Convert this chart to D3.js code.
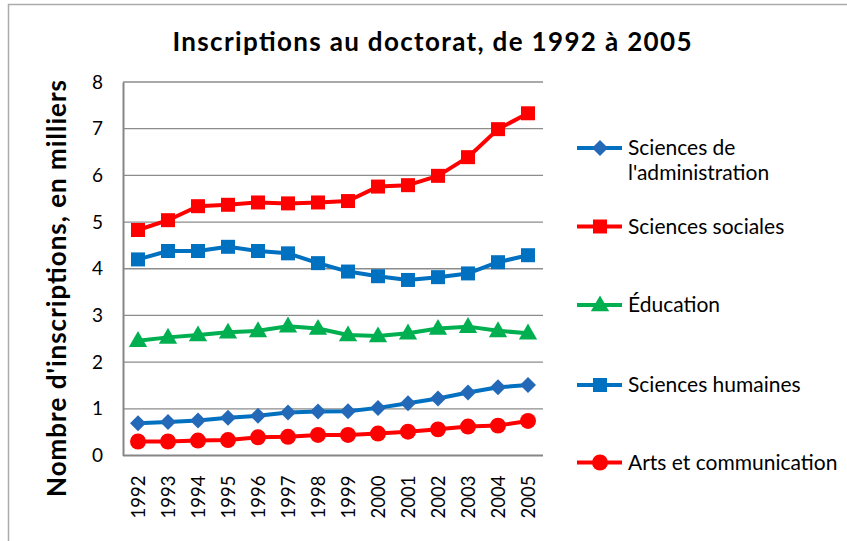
<!DOCTYPE html>
<html><head><meta charset="utf-8">
<script src="https://cdn.jsdelivr.net/npm/d3@7"></script>
<style>body{margin:0;background:#fff}svg{display:block}</style>
</head><body>
<svg id="c" width="847" height="541"></svg>
<script>
const years = ["1992","1993","1994","1995","1996","1997","1998","1999","2000","2001","2002","2003","2004","2005"];
const yTicks = [0,1,2,3,4,5,6,7,8];
const seriesNames = ["Sciences de l'administration","Sciences sociales","Éducation","Sciences humaines","Arts et communication"];
const admin     = [0.69,0.72,0.75,0.81,0.85,0.92,0.94,0.95,1.02,1.12,1.22,1.35,1.46,1.51];
const sociales  = [4.83,5.04,5.34,5.37,5.42,5.40,5.42,5.45,5.76,5.79,5.99,6.39,6.99,7.33];
const education = [2.46,2.53,2.58,2.64,2.67,2.77,2.72,2.58,2.56,2.62,2.72,2.76,2.67,2.62];
const humaines  = [4.20,4.38,4.38,4.47,4.38,4.33,4.12,3.94,3.84,3.76,3.82,3.90,4.14,4.29];
const arts      = [0.30,0.30,0.32,0.33,0.39,0.40,0.44,0.44,0.47,0.51,0.56,0.62,0.64,0.74];
const title = "Inscriptions au doctorat,  de 1992 à 2005";
const yTitle = "Nombre d'inscriptions,  en milliers";

const series = [
  {name: seriesNames[0], values: admin, color: "#0070C0", mark: "#2369B8", sym: "diamond"},
  {name: seriesNames[1], values: sociales, color: "#FF0000", mark: "#FF0000", sym: "square"},
  {name: seriesNames[2], values: education, color: "#00B050", mark: "#00B050", sym: "triangle"},
  {name: seriesNames[3], values: humaines, color: "#0070C0", mark: "#0070C0", sym: "square"},
  {name: seriesNames[4], values: arts, color: "#FF0000", mark: "#FF0000", sym: "circle"}
];

const svg = d3.select("#c");
const font = "Lato, 'Open Sans', sans-serif";
svg.append("rect").attr("x",8.5).attr("y",4.5).attr("width",900).attr("height",600)
  .attr("fill","#fff").attr("stroke","#ababab").attr("stroke-width",1.5);

const L = 123, R = 543, T = 82, B = 455.5;
const x = d3.scalePoint().domain(years).range([L,R]).padding(0.5);
const y = d3.scaleLinear().domain([0,8]).range([B,T]);

// gridlines
svg.append("g").selectAll("line").data(yTicks.filter(d=>d>0)).join("line")
  .attr("x1",L).attr("x2",R).attr("y1",d=>y(d)).attr("y2",d=>y(d))
  .attr("stroke","#8c8c8c").attr("stroke-width",1.3);

// y axis
const ya = svg.append("g").attr("transform",`translate(${L},0)`).call(d3.axisLeft(y).tickValues(yTicks).tickSize(0).tickPadding(20));
ya.select(".domain").attr("stroke","#868686").attr("stroke-width",2);
ya.selectAll("text").attr("font-family",font).attr("font-size",19).attr("fill","#000");

// x axis
const xa = svg.append("g").attr("transform",`translate(0,${B})`).call(d3.axisBottom(x).tickSize(0).tickPadding(0));
xa.select(".domain").attr("stroke","#868686").attr("stroke-width",2).attr("d",`M${L},0H${R}`);
xa.selectAll("text").attr("font-family",font).attr("font-size",18.5).attr("fill","#000")
  .attr("transform","rotate(-90)").attr("text-anchor","end").attr("x",-20).attr("y",0).attr("dy","0.35em");

function symPath(s){
  if(s==="diamond") return d3.symbol().type(d3.symbolSquare).size(128)();
  if(s==="square") return d3.symbol().type(d3.symbolSquare).size(196)();
  if(s==="triangle") return d3.symbol().type(d3.symbolTriangle).size(145)();
  return d3.symbol().type(d3.symbolCircle).size(200)();
}
const rot = s => s==="diamond" ? " rotate(45)" : "";

const line = d3.line().x((d,i)=>x(years[i])).y(d=>y(d));
series.forEach(s=>{
  const g = svg.append("g");
  g.append("path").attr("d",line(s.values)).attr("fill","none").attr("stroke",s.color).attr("stroke-width",4).attr("stroke-linejoin","round");
  g.selectAll("path.m").data(s.values).join("path").attr("class","m")
    .attr("d",symPath(s.sym)).attr("fill",s.mark)
    .attr("transform",(d,i)=>`translate(${x(years[i])},${y(d) + (s.sym==="triangle"?1:0)})${rot(s.sym)}`);
});

// title
svg.append("text").attr("x",432).attr("y",51).attr("text-anchor","middle")
  .attr("font-family",font).attr("font-weight","bold").attr("font-size",26).attr("fill","#000")
  .attr("textLength",519).attr("lengthAdjust","spacing").text(title);

// y title
svg.append("text").attr("transform","translate(66,288.5) rotate(-90)").attr("text-anchor","middle")
  .attr("font-family",font).attr("font-weight","bold").attr("font-size",26).attr("fill","#000")
  .attr("textLength",417).attr("lengthAdjust","spacing").text(yTitle);

// legend
const legY = [148, 226.5, 305, 385, 462.5];
series.forEach((s,i)=>{
  const g = svg.append("g").attr("transform",`translate(0,${legY[i]})`);
  g.append("line").attr("x1",577).attr("x2",622).attr("y1",0).attr("y2",0).attr("stroke",s.color).attr("stroke-width",4);
  g.append("path").attr("d",symPath(s.sym)).attr("fill",s.mark).attr("transform",`translate(600,${s.sym==="triangle"?1:0})${rot(s.sym)}`);
  const t = g.append("text").attr("x",628).attr("y",0).attr("dy","0.35em")
    .attr("font-family",font).attr("font-size",21).attr("fill","#000");
  if(i===0){
    t.append("tspan").attr("x",628).text("Sciences de");
    t.append("tspan").attr("x",628).attr("dy","1.15em").text("l'administration");
  } else t.text(s.name);
});
</script>
</body></html>
